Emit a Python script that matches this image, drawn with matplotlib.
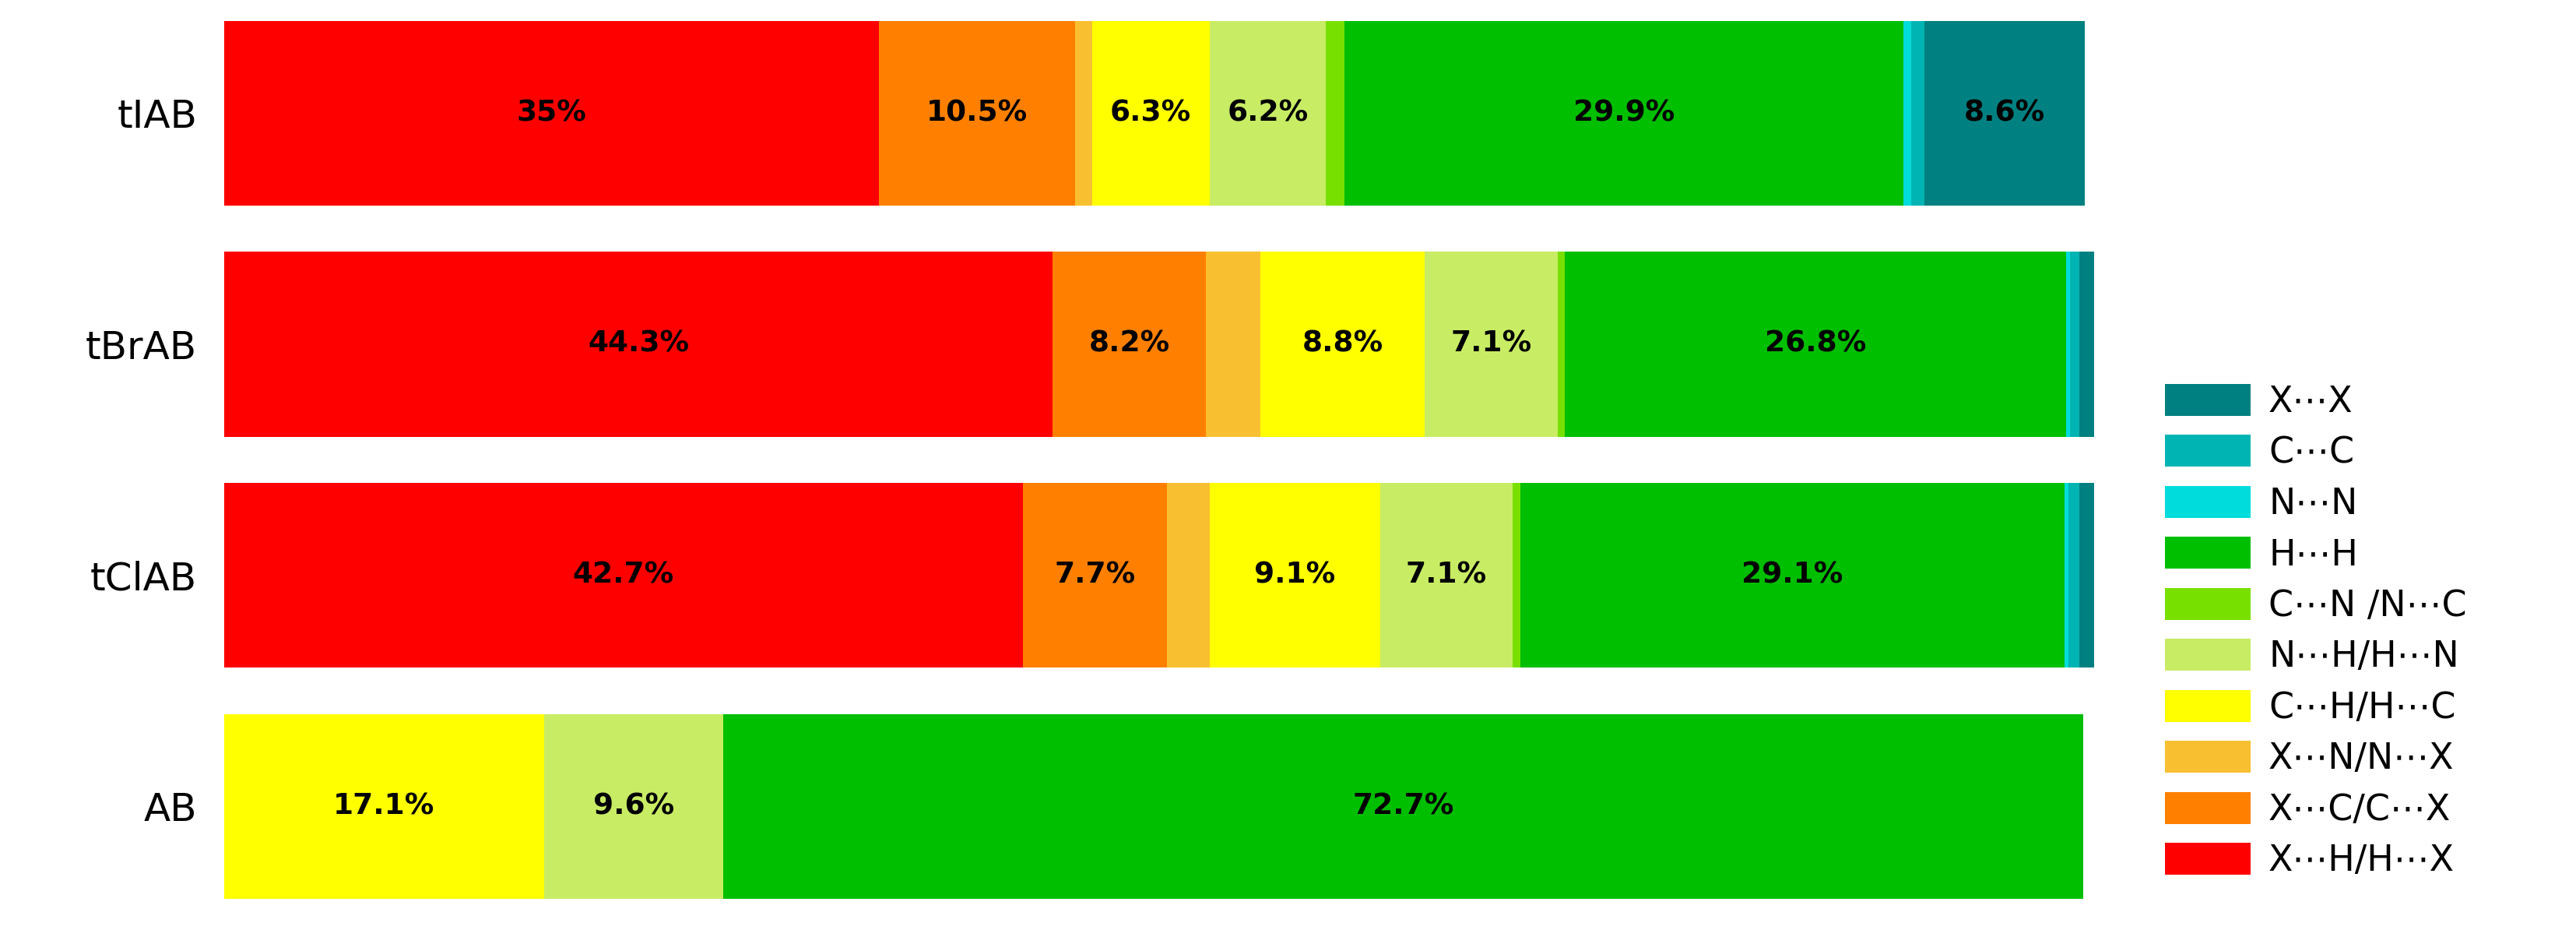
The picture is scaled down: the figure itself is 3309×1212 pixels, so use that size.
import matplotlib.pyplot as plt
import numpy as np

compounds = ["AB", "tClAB", "tBrAB", "tIAB"]
contacts = ["X\u22efH/H\u22efX", "X\u22efC/C\u22efX", "X\u22efN/N\u22efX", "C\u22efH/H\u22efC",
            "N\u22efH/H\u22efN", "C\u22efN /N\u22efC", "H\u22efH", "N\u22efN", "C\u22efC", "X\u22efX"]
colors = ["#FF0000", "#FF8000", "#F8C030", "#FFFF00", "#C8EC64",
          "#78E000", "#00BE00", "#00DCDC", "#00B4B4", "#008080"]
# percentages per contact, order: AB, tClAB, tBrAB, tIAB
values = [
    [0.0, 42.7, 44.3, 35.0],
    [0.0, 7.7, 8.2, 10.5],
    [0.0, 2.3, 2.9, 0.9],
    [17.1, 9.1, 8.8, 6.3],
    [9.6, 7.1, 7.1, 6.2],
    [0.0, 0.4, 0.4, 1.0],
    [72.7, 29.1, 26.8, 29.9],
    [0.0, 0.2, 0.2, 0.4],
    [0.0, 0.6, 0.5, 0.7],
    [0.0, 0.9, 1.0, 8.6],
]

fig = plt.figure(figsize=(33.09, 12.12), dpi=100)
ax = fig.add_axes([0.087, 0.043, 0.726, 0.94])
y = np.arange(len(compounds))
left = np.zeros(len(compounds))
handles = []
for name, col, vals in zip(contacts, colors, values):
    vals = np.array(vals)
    h = ax.barh(y, vals, left=left, height=0.8, color=col, label=name)
    handles.append(h)
    for yi, (l, v) in enumerate(zip(left, vals)):
        if v >= 5:
            ax.text(l + v / 2, yi, f"{v:g}%", ha="center", va="center",
                    fontsize=27, fontweight="bold")
    left += vals

ax.set_xlim(0, 100)
ax.set_ylim(-0.42, 3.42)
ax.set_yticks(y)
ax.set_yticklabels(compounds, fontsize=36)
ax.set_xticks([])
ax.tick_params(axis="y", length=0, pad=25)
for s in ax.spines.values():
    s.set_visible(False)

fig.legend(handles[::-1], contacts[::-1], loc="lower left", bbox_to_anchor=(0.828, 0.035),
           fontsize=33, frameon=False, handlelength=2.4, handleheight=1.0,
           labelspacing=0.42, handletextpad=0.5)
fig.savefig("out.png")
